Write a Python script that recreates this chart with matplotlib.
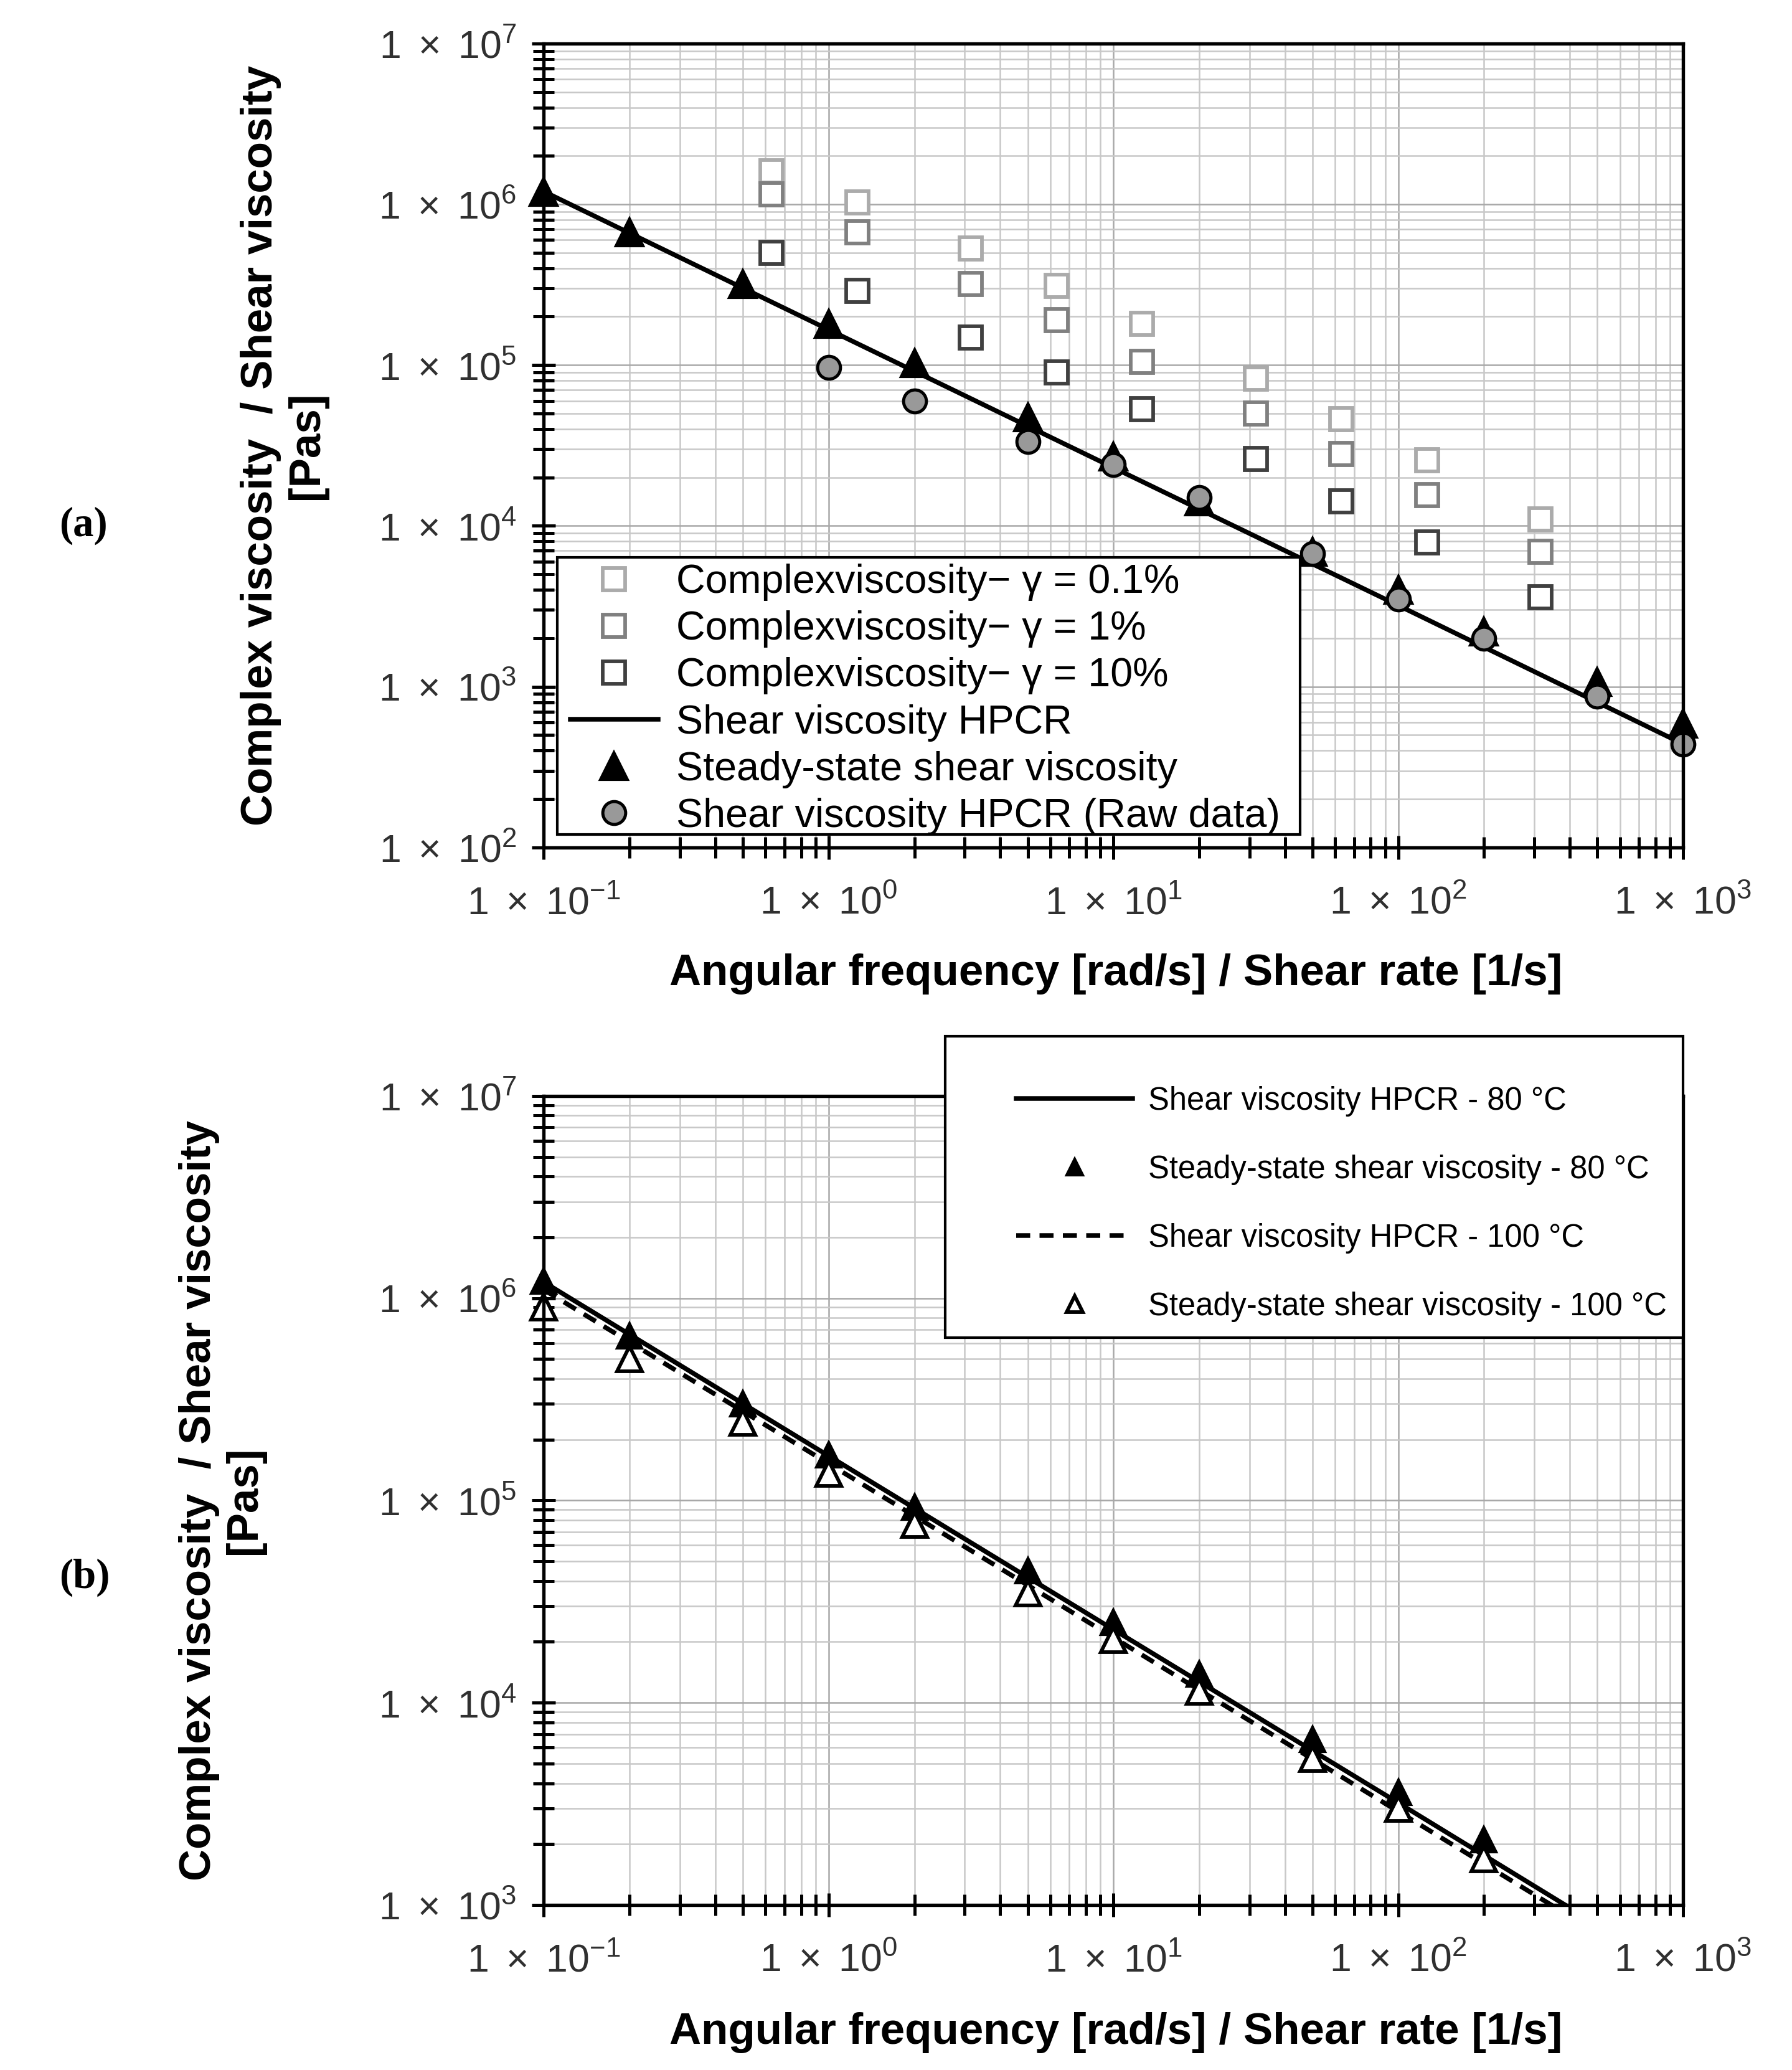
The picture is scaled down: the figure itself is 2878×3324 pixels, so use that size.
import numpy as np
import matplotlib
matplotlib.use('Agg')
import matplotlib.pyplot as plt
from matplotlib.ticker import LogLocator, FuncFormatter, NullFormatter
from matplotlib.patches import Rectangle

plt.rcParams.update({
    'font.family': 'Liberation Sans',
    'mathtext.fontset': 'custom',
    'mathtext.rm': 'Liberation Sans',
    'mathtext.it': 'Liberation Sans:italic',
    'mathtext.bf': 'Liberation Sans:bold',
})

# ---- panel (a) data ----
rate_ss = [0.1, 0.2, 0.5, 1, 2, 5, 10, 20, 50, 100, 200, 500, 1000]
eta_ss = [1.2e6, 6.7e5, 3.2e5, 1.8e5, 1.03e5, 4.75e4, 2.7e4, 1.42e4, 6.9e3, 4.0e3, 2.2e3, 1.07e3, 5.9e2]

rate_raw = [1, 2, 5, 10, 20, 50, 100, 200, 500, 1000]
eta_raw = [9.7e4, 6.0e4, 3.35e4, 2.4e4, 1.5e4, 6.7e3, 3.5e3, 2.0e3, 8.7e2, 4.4e2]

omega = [0.63, 1.26, 3.16, 6.31, 12.6, 31.6, 63.1, 126, 316]
eta_01 = [1.6e6, 1.03e6, 5.3e5, 3.1e5, 1.8e5, 8.2e4, 4.6e4, 2.55e4, 1.1e4]
eta_1 = [1.15e6, 6.7e5, 3.2e5, 1.9e5, 1.05e5, 5.0e4, 2.8e4, 1.56e4, 6.9e3]
eta_10 = [5.0e5, 2.9e5, 1.48e5, 9.0e4, 5.3e4, 2.6e4, 1.42e4, 7.9e3, 3.6e3]

rate_fit = [0.1, 1, 10, 100, 1000]
eta_fit_80 = [1.2e6, 1.66e5, 2.3e4, 3.2e3, 4.4e2]

# ---- panel (b) data ----
rate_b = [0.1, 0.2, 0.5, 1, 2, 5, 10, 20, 50, 100, 200]
eta_ss_80 = [1.22e6, 6.5e5, 3.0e5, 1.68e5, 9.3e4, 4.5e4, 2.5e4, 1.39e4, 6.6e3, 3.6e3, 2.1e3]
eta_ss_100 = [9.0e5, 5.0e5, 2.44e5, 1.36e5, 7.6e4, 3.5e4, 2.05e4, 1.14e4, 5.3e3, 3.0e3, 1.69e3]
eta_fit_100 = [1.1e6, 1.52e5, 2.1e4, 2.9e3, 4.0e2]

labels_a = ['Complexviscosity\u2212 \u03b3 = 0.1%', 'Complexviscosity\u2212 \u03b3 = 1%',
            'Complexviscosity\u2212 \u03b3 = 10%', 'Shear viscosity HPCR',
            'Steady-state shear viscosity', 'Shear viscosity HPCR (Raw data)']
labels_b = ['Shear viscosity HPCR - 80 \u00b0C', 'Steady-state shear viscosity - 80 \u00b0C',
            'Shear viscosity HPCR - 100 \u00b0C', 'Steady-state shear viscosity - 100 \u00b0C']

xlabel = 'Angular frequency [rad/s] / Shear rate [1/s]'
ylabel = 'Complex viscosity  / Shear viscosity\n[Pas]'

fig = plt.figure(figsize=(2879 / 300, 3324 / 300), dpi=300)
ax_a = fig.add_axes([0.3034, 0.5906, 0.6355, 0.3884])
ax_b = fig.add_axes([0.3034, 0.0797, 0.6355, 0.3909])


def sci(v, pos):
    return r'$\mathregular{1\ \times\ 10^{%d}}$' % int(round(np.log10(v)))


def style(ax, ymin, ymax):
    ax.set_xscale('log')
    ax.set_yscale('log')
    ax.set_xlim(0.1, 1000)
    ax.set_ylim(ymin, ymax)
    for s in ax.spines.values():
        s.set_linewidth(1.3)
        s.set_color('black')
    ax.xaxis.set_major_locator(LogLocator(base=10))
    ax.yaxis.set_major_locator(LogLocator(base=10))
    ax.xaxis.set_minor_locator(LogLocator(base=10, subs=np.arange(2, 10)))
    ax.yaxis.set_minor_locator(LogLocator(base=10, subs=np.arange(2, 10)))
    ax.xaxis.set_major_formatter(FuncFormatter(sci))
    ax.yaxis.set_major_formatter(FuncFormatter(sci))
    ax.xaxis.set_minor_formatter(NullFormatter())
    ax.yaxis.set_minor_formatter(NullFormatter())
    ax.tick_params(which='major', direction='inout', length=9, width=1.2,
                   labelsize=15, labelcolor='#303030', pad=6)
    ax.tick_params(which='minor', direction='inout', length=8, width=1.2)
    ax.tick_params(axis='x', pad=10)
    ax.grid(which='major', color='#a8a8a8', linewidth=0.6)
    ax.grid(which='minor', color='#c8c8c8', linewidth=0.6)
    ax.set_axisbelow(True)
    ax.set_xlabel(xlabel, fontsize=17, fontweight='bold')
    ax.set_ylabel(ylabel, fontsize=17, fontweight='bold', linespacing=1.15)


# ---------------- panel (a) ----------------
style(ax_a, 1e2, 1e7)
sq_kw = dict(linestyle='none', marker='s', markersize=8.5, markerfacecolor='white',
             markeredgewidth=1.4)
h1, = ax_a.plot(omega, eta_01, markeredgecolor='#ababab', **sq_kw)
h2, = ax_a.plot(omega, eta_1, markeredgecolor='#808080', **sq_kw)
h3, = ax_a.plot(omega, eta_10, markeredgecolor='#404040', **sq_kw)
h4, = ax_a.plot(rate_fit, eta_fit_80, color='black', linewidth=1.8)
h5, = ax_a.plot(rate_ss, eta_ss, linestyle='none', marker='^', markersize=10.5,
                color='black', clip_on=False)
h6, = ax_a.plot(rate_raw, eta_raw, linestyle='none', marker='o', markersize=8.8,
                markerfacecolor='#999999', markeredgecolor='black', markeredgewidth=1.2,
                clip_on=False)
ax_a.xaxis.set_label_coords(0.502, -0.132)
ax_a.yaxis.set_label_coords(-0.190, 0.5)

ax_a.add_patch(Rectangle((0.0116, 0.0164), 0.6524, 0.3448, transform=ax_a.transAxes,
                         facecolor='white', edgecolor='black', linewidth=1.0, zorder=5))
leg_a = ax_a.legend([h1, h2, h3, h4, h5, h6], labels_a, loc='upper left',
                    bbox_to_anchor=(0.0232, 0.353), borderaxespad=0, borderpad=0,
                    frameon=False, fontsize=15.5, handlelength=2.18, handletextpad=0.45,
                    labelspacing=0.235)
leg_a.set_zorder(6)

# ---------------- panel (b) ----------------
style(ax_b, 1e3, 1e7)
g1, = ax_b.plot(rate_fit, eta_fit_80, color='black', linewidth=1.8)
g3, = ax_b.plot(rate_fit, eta_fit_100, color='black', linewidth=1.8, dashes=(3, 2))
g2, = ax_b.plot(rate_b, eta_ss_80, linestyle='none', marker='^', markersize=9.5,
                color='black', clip_on=False)
g4, = ax_b.plot(rate_b, eta_ss_100, linestyle='none', marker='^', markersize=9.5,
                markerfacecolor='white', markeredgecolor='black', markeredgewidth=1.4,
                clip_on=False)
ax_b.xaxis.set_label_coords(0.502, -0.132)
ax_b.yaxis.set_label_coords(-0.2445, 0.5)

ax_b.add_patch(Rectangle((0.352, 0.7015), 0.648, 0.3719, transform=ax_b.transAxes,
                         facecolor='white', edgecolor='black', linewidth=1.0, zorder=5,
                         clip_on=False))
leg_b = ax_b.legend([g1, g2, g3, g4], labels_b, loc='upper left',
                    bbox_to_anchor=(0.4148, 1.012), borderaxespad=0, borderpad=0,
                    frameon=False, fontsize=12.2, handlelength=3.67, handletextpad=0.5,
                    labelspacing=1.2, markerscale=0.65)
leg_b.set_zorder(6)

fig.text(0.0331, 0.746, '(a)', fontsize=16, family='Liberation Serif', fontweight='bold',
         va='center')
fig.text(0.0331, 0.2379, '(b)', fontsize=16, family='Liberation Serif', fontweight='bold',
         va='center')

fig.savefig('out.png', dpi=300)
